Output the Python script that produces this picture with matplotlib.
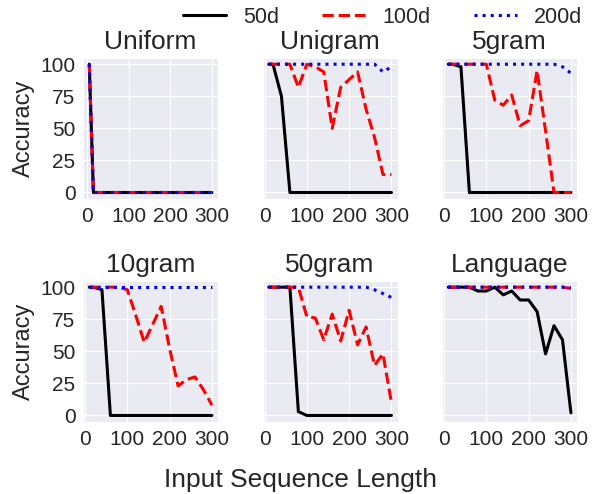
import matplotlib
matplotlib.use("Agg")
from matplotlib import pyplot as plt
import seaborn as sns

# sequence lengths on the x axis
lengths = [10, 20, 40, 60, 80, 100, 120, 140, 160, 180, 200, 220, 240, 260, 280, 300]
uniform_lengths = [5, 15, 20, 40, 60, 80, 100, 120, 140, 160, 180, 200, 220, 240, 260, 280, 300]

titles = ["Uniform", "Unigram", "5gram", "10gram", "50gram", "Language"]
series_names = ["50d", "100d", "200d"]

# accuracy (%) per panel: 50d, 100d, 200d
uniform_50 = [100, 0, 0, 0, 0, 0, 0, 0, 0, 0, 0, 0, 0, 0, 0, 0, 0]
uniform_100 = [100, 0, 0, 0, 0, 0, 0, 0, 0, 0, 0, 0, 0, 0, 0, 0, 0]
uniform_200 = [100, 0, 0, 0, 0, 0, 0, 0, 0, 0, 0, 0, 0, 0, 0, 0, 0]

unigram_50 = [100, 100, 75, 0, 0, 0, 0, 0, 0, 0, 0, 0, 0, 0, 0, 0]
unigram_100 = [100, 100, 100, 100, 82, 100, 98, 94, 50, 82, 88, 94, 65, 43, 14, 14]
unigram_200 = [100, 100, 100, 100, 100, 100, 100, 100, 100, 100, 100, 100, 100, 100, 94, 98]

gram5_50 = [100, 100, 98, 0, 0, 0, 0, 0, 0, 0, 0, 0, 0, 0, 0, 0]
gram5_100 = [100, 100, 100, 100, 100, 100, 72, 68, 76, 52, 56, 95, 48, 0, 0, 0]
gram5_200 = [100, 100, 100, 100, 100, 100, 100, 100, 100, 100, 100, 100, 100, 100, 98, 93]

gram10_50 = [100, 100, 98, 0, 0, 0, 0, 0, 0, 0, 0, 0, 0, 0, 0, 0]
gram10_100 = [100, 100, 100, 100, 100, 98, 78, 57, 71, 85, 52, 23, 28, 30, 20, 8]
gram10_200 = [100, 100, 100, 100, 100, 100, 100, 100, 100, 100, 100, 100, 100, 100, 100, 100]

gram50_50 = [100, 100, 100, 100, 3, 0, 0, 0, 0, 0, 0, 0, 0, 0, 0, 0]
gram50_100 = [100, 100, 100, 100, 100, 77, 76, 59, 79, 58, 82, 55, 69, 39, 48, 10]
gram50_200 = [100, 100, 100, 100, 100, 100, 100, 100, 100, 100, 100, 100, 100, 98, 95, 92]

lang_50 = [100, 100, 100, 100, 97, 97, 100, 94, 97, 90, 90, 81, 48, 70, 59, 2]
lang_100 = [100, 100, 100, 100, 100, 100, 100, 100, 100, 100, 100, 100, 100, 100, 100, 99]
lang_200 = [100, 100, 100, 100, 100, 100, 100, 100, 100, 100, 100, 100, 100, 100, 100, 99.5]

panels = [
    (uniform_lengths, [uniform_50, uniform_100, uniform_200]),
    (lengths, [unigram_50, unigram_100, unigram_200]),
    (lengths, [gram5_50, gram5_100, gram5_200]),
    (lengths, [gram10_50, gram10_100, gram10_200]),
    (lengths, [gram50_50, gram50_100, gram50_200]),
    (lengths, [lang_50, lang_100, lang_200]),
]

styles = [("black", "-"), ("red", "--"), ("blue", ":")]

sns.set_style("darkgrid")
plt.rcParams["font.family"] = ["Liberation Sans", "DejaVu Sans"]

fig, axes = plt.subplots(2, 3, figsize=(5.98, 4.94), dpi=100, sharey=True)
fig.subplots_adjust(left=0.139, right=0.965, top=0.883, bottom=0.146,
                    wspace=0.33, hspace=0.58)

for ax, title, (xs, ys) in zip(axes.flat, titles, panels):
    for y, (c, ls), name in zip(ys, styles, series_names):
        ax.plot(xs, y, color=c, linestyle=ls, linewidth=2.2, label=name)
    ax.set_title(title, fontsize=19, color=".15")
    ax.set_xticks([0, 100, 200, 300])
    ax.set_yticks([0, 25, 50, 75, 100])
    ax.tick_params(labelsize=15, colors=".15", pad=2)

for ax in axes[:, 0]:
    ax.set_ylabel("Accuracy", fontsize=17, color=".15")

handles, labels = axes[0, 1].get_legend_handles_labels()
fig.legend(handles, labels, loc="upper center", bbox_to_anchor=(0.64, 1.025),
           ncol=3, frameon=False, fontsize=15.5, handlelength=2.0)

fig.text(0.503, 0.028, "Input Sequence Length", ha="center", va="center",
         fontsize=19, color=".15")

fig.savefig("out.png", dpi=100)
